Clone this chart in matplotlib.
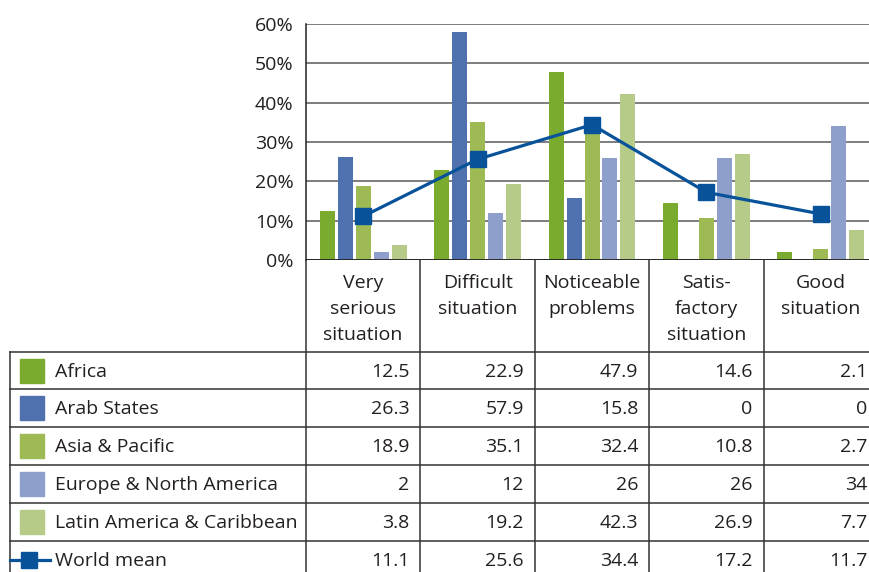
import matplotlib.pyplot as plt
import numpy as np
from matplotlib.patches import Rectangle

plt.rcParams['font.family'] = ['Open Sans', 'DejaVu Sans']

categories = ["Very\nserious\nsituation", "Difficult\nsituation", "Noticeable\nproblems",
              "Satis-\nfactory\nsituation", "Good\nsituation"]
regions = ["Africa", "Arab States", "Asia & Pacific",
           "Europe & North America", "Latin America & Caribbean"]
africa = [12.5, 22.9, 47.9, 14.6, 2.1]
arab_states = [26.3, 57.9, 15.8, 0, 0]
asia_pacific = [18.9, 35.1, 32.4, 10.8, 2.7]
europe_na = [2, 12, 26, 26, 34]
latin_america = [3.8, 19.2, 42.3, 26.9, 7.7]
world_mean = [11.1, 25.6, 34.4, 17.2, 11.7]
yticks = [0, 10, 20, 30, 40, 50, 60]

series = [africa, arab_states, asia_pacific, europe_na, latin_america]
colors = ["#7aab2e", "#4f71ae", "#9dba55", "#8f9fcb", "#b6cb87"]
line_color = "#08529a"
txt = "#231f20"

W, H = 870, 572
fig = plt.figure(figsize=(W / 100, H / 100), dpi=100)

# pixel layout
ax_left, ax_top, ax_bottom = 305.9, 24, 260
col_w = 114.45
ax_right = ax_left + len(categories) * col_w

# overlay axes in pixel coords for the table
tab = fig.add_axes([0, 0, 1, 1])
tab.set_xlim(0, W)
tab.set_ylim(H, 0)
tab.axis('off')

ax = fig.add_axes([ax_left / W, 1 - ax_bottom / H,
                   (ax_right - ax_left) / W, (ax_bottom - ax_top) / H])
ax.patch.set_alpha(0)

x = np.arange(len(categories))
step, width = 0.157, 0.131
for i, (vals, c) in enumerate(zip(series, colors)):
    ax.bar(x + (i - 2) * step, vals, width, color=c, zorder=2)
ax.plot(x, world_mean, color=line_color, lw=2.3, marker='s', ms=11, zorder=3)

ax.set_xlim(-0.5, len(categories) - 0.5)
ax.set_ylim(0, 60)
ax.set_yticks(yticks)
ax.set_yticklabels([f"{v}%" for v in yticks], fontsize=14, color=txt)
ax.set_xticks([])
ax.tick_params(axis='y', length=0, pad=9)
ax.grid(axis='y', color="#5a5a5a", lw=1.1, zorder=1)
for s in ['top', 'right', 'bottom']:
    ax.spines[s].set_visible(False)
ax.spines['left'].set_color("#222222")
ax.spines['left'].set_linewidth(1.1)
ax.axhline(0, color="#222222", lw=1.3, zorder=4)

# table
lc, lw = "#333333", 1.1
tab_left = 10
header_bottom = 351.6
row_h = 37.85
n_rows = len(regions) + 1
tab_bottom = header_bottom + n_rows * row_h

for k in range(len(categories) + 1):
    xx = ax_left + k * col_w
    tab.plot([xx, xx], [ax_bottom, tab_bottom], color=lc, lw=lw)
tab.plot([tab_left, tab_left], [header_bottom, tab_bottom], color=lc, lw=lw)
for r in range(n_rows + 1):
    yy = header_bottom + r * row_h
    tab.plot([tab_left, ax_right], [yy, yy], color=lc, lw=lw)

# header text
for k, cat in enumerate(categories):
    tab.text(ax_left + (k + 0.5) * col_w, 273.5, cat, ha='center', va='top',
             fontsize=14, linespacing=1.6, color=txt)

# rows
all_rows = series + [world_mean]
labels = regions + ["World mean"]
for r, (lab, vals) in enumerate(zip(labels, all_rows)):
    yc = header_bottom + (r + 0.5) * row_h
    if r < len(regions):
        tab.add_patch(Rectangle((20, yc - 12), 24, 24, color=colors[r]))
    else:
        tab.plot([10, 50], [yc, yc], color=line_color, lw=2.3)
        tab.plot([29.5], [yc], marker='s', ms=11, color=line_color)
    tab.text(55, yc + 1, lab, ha='left', va='center', fontsize=14, color=txt)
    for k, v in enumerate(vals):
        tab.text(ax_left + (k + 1) * col_w - 11, yc + 1, f"{v:g}", ha='right',
                 va='center', fontsize=14, color=txt)

fig.savefig("out.png", dpi=100)
